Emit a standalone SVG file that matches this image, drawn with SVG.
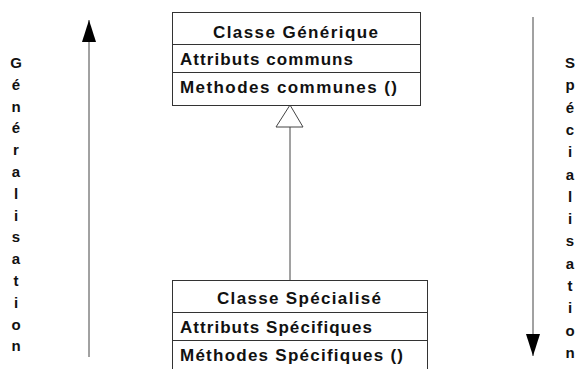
<svg xmlns="http://www.w3.org/2000/svg" width="584" height="369" viewBox="0 0 584 369">
  <style>
    .box { fill: #ffffff; stroke: #333333; stroke-width: 1; }
    .sep { stroke: #333333; stroke-width: 1; }
    .conn { stroke: #444444; stroke-width: 1; fill: none; }
    .t { font-family: "Liberation Sans", Arial, sans-serif; font-weight: bold; font-size: 17px; fill: #111111; }
    .col { font-family: "Liberation Sans", Arial, sans-serif; font-weight: bold; font-size: 15px; fill: #111111; text-anchor: middle; }
  </style>
  <defs>
    <!-- filled arrowhead, drawn pointing along +x -->
    <marker id="headSolid" viewBox="0 0 22 14" refX="22" refY="7" markerWidth="22" markerHeight="14" markerUnits="userSpaceOnUse" orient="auto">
      <path d="M0 0 L22 7 L0 14 Z" fill="#000000"/>
    </marker>
  </defs>
  <rect width="584" height="369" fill="#ffffff"/>

  <!-- direction arrows with vertical labels -->
  <g id="generalisation">
    <line class="conn" x1="89" y1="357" x2="89" y2="20" marker-end="url(#headSolid)"/>
    <text class="col" x="16" y="68">G<tspan x="16" dy="21.8">é</tspan><tspan x="16" dy="21.8">n</tspan><tspan x="16" dy="21.8">é</tspan><tspan x="16" dy="21.8">r</tspan><tspan x="16" dy="21.8">a</tspan><tspan x="16" dy="21.8">l</tspan><tspan x="16" dy="21.8">i</tspan><tspan x="16" dy="21.8">s</tspan><tspan x="16" dy="21.8">a</tspan><tspan x="16" dy="21.8">t</tspan><tspan x="16" dy="21.8">i</tspan><tspan x="16" dy="21.8">o</tspan><tspan x="16" dy="21.8">n</tspan></text>
  </g>
  <g id="specialisation">
    <line class="conn" x1="533" y1="17" x2="533" y2="356" marker-end="url(#headSolid)"/>
    <text class="col" x="570" y="68">S<tspan x="570" dy="22.3">p</tspan><tspan x="570" dy="22.3">é</tspan><tspan x="570" dy="22.3">c</tspan><tspan x="570" dy="22.3">i</tspan><tspan x="570" dy="22.3">a</tspan><tspan x="570" dy="22.3">l</tspan><tspan x="570" dy="22.3">i</tspan><tspan x="570" dy="22.3">s</tspan><tspan x="570" dy="22.3">a</tspan><tspan x="570" dy="22.3">t</tspan><tspan x="570" dy="22.3">i</tspan><tspan x="570" dy="22.3">o</tspan><tspan x="570" dy="22.3">n</tspan></text>
  </g>

  <!-- inheritance link -->
  <g id="connectors">
    <line class="conn" x1="290" y1="127" x2="290" y2="280"/>
    <path class="conn" d="M290 105 L303 127 L276 127 Z" fill="#ffffff"/>
  </g>

  <g id="classe-generique">
    <rect class="box" x="172.5" y="12.5" width="248" height="93"/>
    <line class="sep" x1="172.5" y1="44.5" x2="420.5" y2="44.5"/>
    <line class="sep" x1="172.5" y1="72.5" x2="420.5" y2="72.5"/>
    <text class="t" x="213" y="38" textLength="165" lengthAdjust="spacing">Classe Générique</text>
    <text class="t" x="180" y="65" textLength="173" lengthAdjust="spacing">Attributs communs</text>
    <text class="t" x="180" y="93" textLength="217" lengthAdjust="spacing">Methodes communes ()</text>
  </g>

  <g id="classe-specialise">
    <rect class="box" x="172.5" y="280.5" width="255" height="95"/>
    <line class="sep" x1="172.5" y1="312.5" x2="427.5" y2="312.5"/>
    <line class="sep" x1="172.5" y1="340.5" x2="427.5" y2="340.5"/>
    <text class="t" x="217" y="304" textLength="164" lengthAdjust="spacing">Classe Spécialisé</text>
    <text class="t" x="180" y="333" textLength="192" lengthAdjust="spacing">Attributs Spécifiques</text>
    <text class="t" x="180" y="361" textLength="223" lengthAdjust="spacing">Méthodes Spécifiques ()</text>
  </g>
</svg>
